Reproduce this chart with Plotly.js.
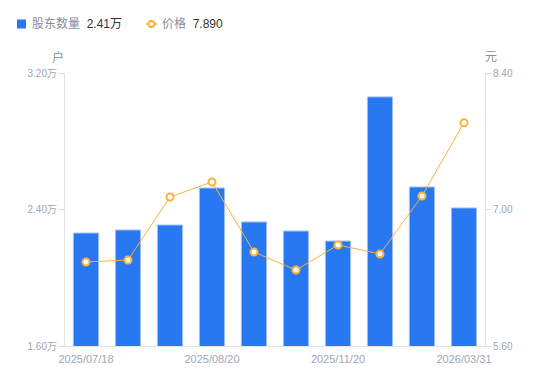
<!DOCTYPE html>
<html><head><meta charset="utf-8">
<script src="https://cdn.plot.ly/plotly-3.0.1.min.js"></script>
<style>html,body{margin:0;padding:0;background:#fff}#c{width:550px;height:381px}</style>
</head><body><div id="c"></div>
<script>
var xIndex = [0,1,2,3,4,5,6,7,8,9];
var tickLabels = ["2025/07/18","2025/08/20","2025/11/20","2026/03/31"];
var tickPos = [0,3,6,9];
var holders = [2.262,2.280,2.309,2.526,2.327,2.274,2.215,3.060,2.532,2.409]; // 万户
var price = [6.462,6.482,7.128,7.282,6.564,6.379,6.636,6.544,7.138,7.890];
var leftTicks = [1.6,2.4,3.2];
var leftTickText = ["1.60万","2.40万","3.20万"];
var rightTicks = [5.6,7.0,8.4];
var rightTickText = ["5.60","7.00","8.40"];
var legendNames = ["股东数量","价格"];
var legendValues = ["2.41万","7.890"];

var FONT = "Liberation Sans, Arial, Noto Sans CJK SC, sans-serif";
var M = {l:65, r:65, t:73, b:35}, W = 550, H = 381;
var PW = W - M.l - M.r, PH = H - M.t - M.b;
function px(x){ return (x - M.l) / PW; }
function py(y){ return 1 - (y - M.t) / PH; }

var BLUE = '#2878f2', ORANGE = '#f7b33a';
var traces = [
  {type:'bar', x:xIndex, y:holders, yaxis:'y', name:legendNames[0],
   marker:{color:BLUE, line:{color:'#9fc2f8', width:1}},
   width:0.6, hoverinfo:'skip'},
  {type:'scatter', mode:'lines+markers', x:xIndex, y:price, yaxis:'y2', name:legendNames[1],
   line:{color:ORANGE, width:1},
   marker:{symbol:'circle', size:7, color:'#ffffff', line:{color:ORANGE, width:2}},
   hoverinfo:'skip'}
];
var legendY = 24;
var layout = {
  width:W, height:H, margin:M,
  paper_bgcolor:'#fff', plot_bgcolor:'#fff',
  font:{family:FONT, size:11, color:'#a3a6b4'},
  showlegend:false,
  bargap:0.4,
  xaxis:{range:[-0.5,9.5], tickvals:tickPos, ticktext:tickLabels, showgrid:false,
         zeroline:false, showline:true, linecolor:'#e3e3e6', linewidth:1, ticks:'',
         ticklabelstandoff:3, tickfont:{size:11, color:'#a3a6b4'}, fixedrange:true},
  yaxis:{range:[1.6,3.2], tickvals:leftTicks, ticktext:leftTickText, showgrid:false,
         zeroline:false, showline:true, linecolor:'#e3e3e6', ticks:'outside', ticklen:5,
         tickcolor:'#d8d8dc', tickfont:{size:10, color:'#a3a6b4'}},
  yaxis2:{range:[5.6,8.4], tickvals:rightTicks, ticktext:rightTickText, overlaying:'y',
          side:'right', showgrid:false, zeroline:false, showline:true, linecolor:'#e3e3e6',
          ticks:'outside', ticklen:5, tickcolor:'#d8d8dc', tickfont:{size:10, color:'#a3a6b4'}},
  shapes:[
    {type:'rect', xref:'paper', yref:'paper', x0:px(17), x1:px(26), y0:py(legendY-4.5), y1:py(legendY+4.5),
     fillcolor:BLUE, line:{width:0}},
    {type:'line', xref:'paper', yref:'paper', x0:px(146), x1:px(157), y0:py(legendY), y1:py(legendY),
     line:{color:ORANGE, width:1.5}},
    {type:'circle', xref:'paper', yref:'paper', x0:px(148.5), x1:px(154.5), y0:py(legendY-3), y1:py(legendY+3),
     fillcolor:'#fff', line:{color:ORANGE, width:2}}
  ],
  annotations:[
    {text:legendNames[0] + '  <span style="color:#333">' + legendValues[0] + '</span>',
     xref:'paper', yref:'paper', x:px(30), y:py(legendY), xanchor:'left', yanchor:'middle',
     showarrow:false, font:{size:12, color:'#8a8d99'}},
    {text:legendNames[1] + '  <span style="color:#333">' + legendValues[1] + '</span>',
     xref:'paper', yref:'paper', x:px(160), y:py(legendY), xanchor:'left', yanchor:'middle',
     showarrow:false, font:{size:12, color:'#8a8d99'}},
    {text:'户', xref:'paper', yref:'paper', x:px(58), y:py(57), xanchor:'center', yanchor:'middle',
     showarrow:false, font:{size:12, color:'#8a8d99'}},
    {text:'元', xref:'paper', yref:'paper', x:px(491), y:py(57), xanchor:'center', yanchor:'middle',
     showarrow:false, font:{size:12, color:'#8a8d99'}}
  ]
};
Plotly.newPlot('c', traces, layout, {displayModeBar:false, staticPlot:true});
</script></body></html>
